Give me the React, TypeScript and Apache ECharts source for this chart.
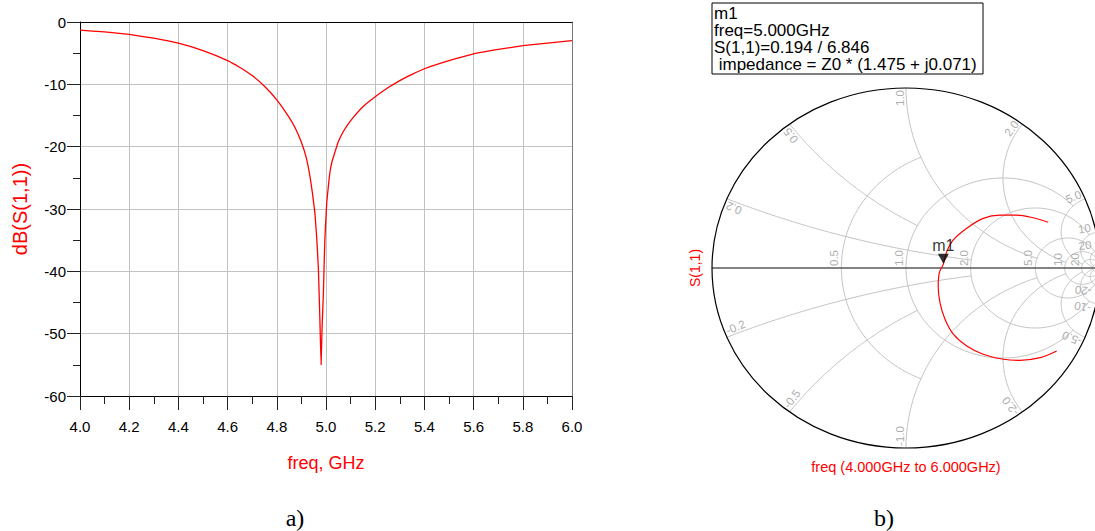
import React, { useEffect, useRef } from "react";
import * as echarts from "echarts";

// Return loss sweep, 4–6 GHz
const freqGHz = [
  4.0, 4.1, 4.2, 4.3, 4.4, 4.5, 4.6, 4.65, 4.7, 4.75, 4.8, 4.85, 4.875, 4.9, 4.92, 4.935, 4.945, 4.955, 4.962,
  4.969, 4.975, 4.98, 4.984, 4.989, 4.993, 4.996, 5.003, 5.01, 5.016, 5.025, 5.037, 5.05, 5.07, 5.09, 5.111,
  5.15, 5.2, 5.25, 5.3, 5.35, 5.4, 5.5, 5.6, 5.7, 5.8, 5.9, 6.0,
];
const s11dB = [
  -1.3, -1.6, -2.0, -2.6, -3.4, -4.6, -6.2, -7.3, -8.6, -10.3, -12.5, -15.3, -17.0, -19.3, -21.8, -24.8, -27.5,
  -30.7, -34.5, -39.5, -47.5, -55.0, -49.0, -44.0, -38.0, -34.4, -29.0, -26.2, -24.1, -22.3, -20.8, -19.2,
  -17.6, -16.4, -15.3, -13.6, -12.0, -10.6, -9.4, -8.4, -7.5, -6.2, -5.1, -4.4, -3.8, -3.4, -3.0,
];

// Same sweep as reflection coefficient (real / imaginary), 4 GHz -> 6 GHz
const smithRe = [
  0.777, 0.691, 0.588, 0.502, 0.398, 0.313, 0.244, 0.201, 0.175, 0.166, 0.172, 0.193, 0.21, 0.244, 0.313,
  0.398, 0.485, 0.571, 0.656, 0.733,
];
const smithIm = [
  -0.461, -0.498, -0.513, -0.507, -0.479, -0.433, -0.368, -0.285, -0.193, -0.1, -0.026, 0.023, 0.091, 0.156,
  0.221, 0.276, 0.294, 0.294, 0.279, 0.254,
];

// Marker m1
const markerName = "m1";
const markerFreq = "5.000GHz";
const markerMag = 0.194;
const markerAngleDeg = 6.846;
const markerImpedance = "1.475 + j0.071";

// Smith grid: constant-resistance circles and the |x| they run to
const resistanceCircles = [0.5, 1, 2, 5, 10, 20, 50];
const resistanceReach = [1, 5, 10, 20, 50, Infinity, Infinity];
const resistanceLabels = ["0.5", "1.0", "2.0", "5.0", "10", "20", ""];
// constant-reactance arcs and the r they run to
const reactanceArcs = [0.2, 0.5, 1, 2, 5, 10, 20, 50];
const reactanceReach = [2, 1, 5, 10, 20, 50, 50, Infinity];
const reactanceLabels = ["0.2", "0.5", "1.0", "2.0", "5.0", "10", "20", ""];

// Left plot ticks
const freqTicks = { min: 4, max: 6, step: 0.2 };
const dbTicks = { min: -60, max: 0, step: 10 };

const SANS = '"Liberation Sans", Arial, sans-serif';
const SERIF = '"Liberation Serif", "Times New Roman", serif';
const GRID_GREY = "#c2c2c2";
const LABEL_GREY = "#adadad";
const PAGE_RIGHT = 1092;

// reflection coefficient of normalised impedance r + jx
const gammaOf = (r: number, x: number): [number, number] => {
  const den = (r + 1) * (r + 1) + x * x;
  return [(r * r + x * x - 1) / den, (2 * x) / den];
};

const resistancePath = (r: number, reach: number): number[][] => {
  const c = r / (1 + r);
  const rho = 1 / (1 + r);
  let a0 = 0;
  if (isFinite(reach)) {
    const p = gammaOf(r, reach);
    a0 = Math.atan2(p[1], p[0] - c);
  }
  const pts: number[][] = [];
  const n = 180;
  for (let i = 0; i <= n; i++) {
    const a = a0 + (2 * Math.PI - 2 * a0) * (i / n);
    pts.push([c + rho * Math.cos(a), rho * Math.sin(a)]);
  }
  return pts;
};

const reactancePath = (x: number, reach: number): number[][] => {
  const cy = 1 / x;
  const rho = Math.abs(1 / x);
  const p0 = gammaOf(0, x);
  const p1 = isFinite(reach) ? gammaOf(reach, x) : [1, 0];
  const a0 = Math.atan2(p0[1] - cy, p0[0] - 1);
  let d = Math.atan2(p1[1] - cy, p1[0] - 1) - a0;
  while (d > Math.PI) d -= 2 * Math.PI;
  while (d <= -Math.PI) d += 2 * Math.PI;
  const pts: number[][] = [];
  const n = 120;
  for (let i = 0; i <= n; i++) {
    const a = a0 + d * (i / n);
    pts.push([1 + rho * Math.cos(a), cy + rho * Math.sin(a)]);
  }
  return pts;
};

const gridLineStyle = { stroke: GRID_GREY, fill: "none", lineWidth: 1 };
const gridLabelFont = `11.5px ${SANS}`;

const renderResistance = (params: any, api: any) => {
  const i = params.dataIndex;
  const r = resistanceCircles[i];
  const pts = resistancePath(r, resistanceReach[i]).map((p) => api.coord(p));
  const children: any[] = [{ type: "polyline", shape: { points: pts }, style: gridLineStyle, silent: true }];
  if (resistanceLabels[i]) {
    const p = api.coord([(r - 1) / (r + 1), 0]);
    children.push({
      type: "text",
      x: p[0] - 1,
      y: p[1] - 2,
      rotation: Math.PI / 2,
      silent: true,
      style: { text: resistanceLabels[i], fill: LABEL_GREY, font: gridLabelFont, align: "left", verticalAlign: "bottom" },
    });
  }
  return { type: "group", children };
};

const renderReactance = (params: any, api: any) => {
  const i = params.dataIndex;
  const x = reactanceArcs[i];
  const upper = reactancePath(x, reactanceReach[i]);
  const children: any[] = [
    { type: "polyline", shape: { points: upper.map((p) => api.coord(p)) }, style: gridLineStyle, silent: true },
    {
      type: "polyline",
      shape: { points: upper.map((p) => api.coord([p[0], -p[1]])) },
      style: gridLineStyle,
      silent: true,
    },
  ];
  if (reactanceLabels[i]) {
    const centre = api.coord([0, 0]);
    const edge = gammaOf(0, x);
    const phi = Math.atan2(edge[1], edge[0]);
    [1, -1].forEach((s) => {
      const p = api.coord([edge[0], s * edge[1]]);
      const dx = centre[0] - p[0];
      const dy = centre[1] - p[1];
      const len = Math.hypot(dx, dy);
      let ax = p[0] + (dx / len) * 2;
      let ay = p[1] + (dy / len) * 2;
      if (ax > PAGE_RIGHT) {
        // slide along the arc direction so the label stays on the page
        const k = (ax - PAGE_RIGHT) / Math.abs(dx / len);
        ax += (dx / len) * k;
        ay += (dy / len) * k;
      }
      children.push({
        type: "text",
        x: ax,
        y: ay,
        rotation: s > 0 ? phi : -phi + Math.PI,
        silent: true,
        style: {
          text: s > 0 ? reactanceLabels[i] : "-" + reactanceLabels[i],
          fill: LABEL_GREY,
          font: gridLabelFont,
          align: s > 0 ? "right" : "left",
          verticalAlign: "bottom",
        },
      });
    });
  }
  return { type: "group", children };
};

const renderFrame = (_params: any, api: any) => {
  const c = api.coord([0, 0]);
  const size = api.size([1, 1]);
  const left = api.coord([-1, 0]);
  const right = api.coord([1, 0]);
  return {
    type: "group",
    children: [
      {
        type: "line",
        shape: { x1: left[0], y1: left[1], x2: right[0], y2: right[1] },
        style: { stroke: "#5a5a5a", lineWidth: 1.5 },
        silent: true,
      },
      {
        type: "ellipse",
        shape: { cx: c[0], cy: c[1], rx: size[0], ry: size[1] },
        style: { stroke: "#000", fill: "none", lineWidth: 1.2 },
        silent: true,
      },
    ],
  };
};

const markerRad = (markerAngleDeg * Math.PI) / 180;
const markerPoint = [markerMag * Math.cos(markerRad), markerMag * Math.sin(markerRad)];

const option: any = {
  animation: false,
  backgroundColor: "#fff",
  textStyle: { fontFamily: SANS },
  grid: [
    { left: 80, top: 22, width: 492, height: 374, outerBoundsMode: "none" },
    { left: 712, top: 88, width: 388, height: 360, outerBoundsMode: "none" },
  ],
  xAxis: [
    {
      gridIndex: 0,
      type: "value",
      min: freqTicks.min,
      max: freqTicks.max,
      interval: freqTicks.step,
      name: "freq, GHz",
      nameLocation: "middle",
      nameGap: 58,
      nameTextStyle: { color: "#ff0000", fontSize: 18, fontFamily: SANS },
      axisLine: { show: true, onZero: false, lineStyle: { color: "#000", width: 1 } },
      axisTick: { show: true, length: 14, lineStyle: { color: "#222", width: 1 } },
      minorTick: { show: true, splitNumber: 2, length: 8, lineStyle: { color: "#222", width: 1 } },
      axisLabel: {
        color: "#000",
        fontSize: 15,
        fontFamily: SANS,
        margin: 23,
        formatter: (v: number) => v.toFixed(1),
      },
      splitLine: { show: true, lineStyle: { color: GRID_GREY, width: 1 } },
    },
    {
      gridIndex: 0,
      type: "value",
      position: "top",
      min: freqTicks.min,
      max: freqTicks.max,
      axisLine: { show: true, onZero: false, lineStyle: { color: "#000", width: 1 } },
      axisTick: { show: false },
      axisLabel: { show: false },
      splitLine: { show: false },
    },
    { gridIndex: 1, type: "value", min: -1, max: 1, show: false },
  ],
  yAxis: [
    {
      gridIndex: 0,
      type: "value",
      min: dbTicks.min,
      max: dbTicks.max,
      interval: dbTicks.step,
      name: "dB(S(1,1))",
      nameLocation: "middle",
      nameGap: 50,
      nameTextStyle: { color: "#ff0000", fontSize: 20, fontFamily: SANS },
      axisLine: { show: true, onZero: false, lineStyle: { color: "#000", width: 1 } },
      axisTick: { show: true, length: 13, lineStyle: { color: "#222", width: 1 } },
      minorTick: { show: true, splitNumber: 2, length: 7, lineStyle: { color: "#222", width: 1 } },
      axisLabel: { color: "#000", fontSize: 15, fontFamily: SANS, margin: 14 },
      splitLine: { show: true, lineStyle: { color: GRID_GREY, width: 1 } },
    },
    {
      gridIndex: 0,
      type: "value",
      position: "right",
      min: dbTicks.min,
      max: dbTicks.max,
      axisLine: { show: true, onZero: false, lineStyle: { color: "#7a7a7a", width: 1 } },
      axisTick: { show: false },
      axisLabel: { show: false },
      splitLine: { show: false },
    },
    { gridIndex: 1, type: "value", min: -1, max: 1, show: false },
  ],
  series: [
    {
      name: "dB(S(1,1))",
      type: "line",
      xAxisIndex: 0,
      yAxisIndex: 0,
      data: freqGHz.map((f, i) => [f, s11dB[i]]),
      showSymbol: false,
      smooth: 0.1,
      lineStyle: { color: "#ff0000", width: 1.3 },
      z: 5,
    },
    {
      type: "custom",
      xAxisIndex: 2,
      yAxisIndex: 2,
      renderItem: renderResistance,
      data: resistanceCircles.map(() => [0, 0]),
      silent: true,
      z: 1,
    },
    {
      type: "custom",
      xAxisIndex: 2,
      yAxisIndex: 2,
      renderItem: renderReactance,
      data: reactanceArcs.map(() => [0, 0]),
      silent: true,
      z: 1,
    },
    {
      type: "custom",
      xAxisIndex: 2,
      yAxisIndex: 2,
      renderItem: renderFrame,
      data: [[0, 0]],
      silent: true,
      z: 2,
    },
    {
      name: "S(1,1)",
      type: "line",
      xAxisIndex: 2,
      yAxisIndex: 2,
      data: smithRe.map((re, i) => [re, smithIm[i]]),
      showSymbol: false,
      smooth: 0.35,
      lineStyle: { color: "#ff0000", width: 1.2 },
      z: 5,
    },
    {
      name: markerName,
      type: "scatter",
      xAxisIndex: 2,
      yAxisIndex: 2,
      data: [markerPoint],
      symbol: "triangle",
      symbolRotate: 180,
      symbolSize: [11, 10],
      symbolOffset: [0, -5],
      itemStyle: { color: "#000" },
      label: {
        show: true,
        formatter: markerName,
        position: "top",
        distance: 0,
        color: "#000",
        fontSize: 16,
        fontFamily: SANS,
      },
      z: 6,
    },
  ],
  graphic: [
    {
      type: "rect",
      shape: { x: 712, y: 3, width: 271, height: 71 },
      style: { fill: "#fff", stroke: "#000", lineWidth: 1 },
      z: 10,
    },
    ...[
      markerName,
      `freq=${markerFreq}`,
      `S(1,1)=${markerMag.toFixed(3)} / ${markerAngleDeg.toFixed(3)}`,
      ` impedance = Z0 * (${markerImpedance})`,
    ].map((t, i) => ({
      type: "text",
      x: 714,
      y: 13.5 + i * 17,
      z: 11,
      style: { text: t, fill: "#000", font: `17px ${SANS}`, align: "left", verticalAlign: "middle" },
    })),
    {
      type: "text",
      x: 695,
      y: 268,
      rotation: Math.PI / 2,
      style: { text: "S(1,1)", fill: "#ff0000", font: `14px ${SANS}`, align: "center", verticalAlign: "middle" },
    },
    {
      type: "text",
      x: 906,
      y: 467,
      style: {
        text: "freq (4.000GHz to 6.000GHz)",
        fill: "#ff0000",
        font: `14.5px ${SANS}`,
        align: "center",
        verticalAlign: "middle",
      },
    },
    {
      type: "text",
      x: 295,
      y: 518,
      style: { text: "a)", fill: "#000", font: `24px ${SERIF}`, align: "center", verticalAlign: "middle" },
    },
    {
      type: "text",
      x: 884,
      y: 518,
      style: { text: "b)", fill: "#000", font: `24px ${SERIF}`, align: "center", verticalAlign: "middle" },
    },
  ],
};

export default function App() {
  const ref = useRef<HTMLDivElement>(null);
  useEffect(() => {
    const el = ref.current;
    if (!el) return;
    const chart = echarts.init(el, undefined, { renderer: "svg" });
    chart.setOption(option);
    return () => chart.dispose();
  }, []);
  return (
    <div
      ref={ref}
      style={{ position: "fixed", left: 0, top: 0, width: 1095, height: 531, background: "#fff" }}
    />
  );
}
